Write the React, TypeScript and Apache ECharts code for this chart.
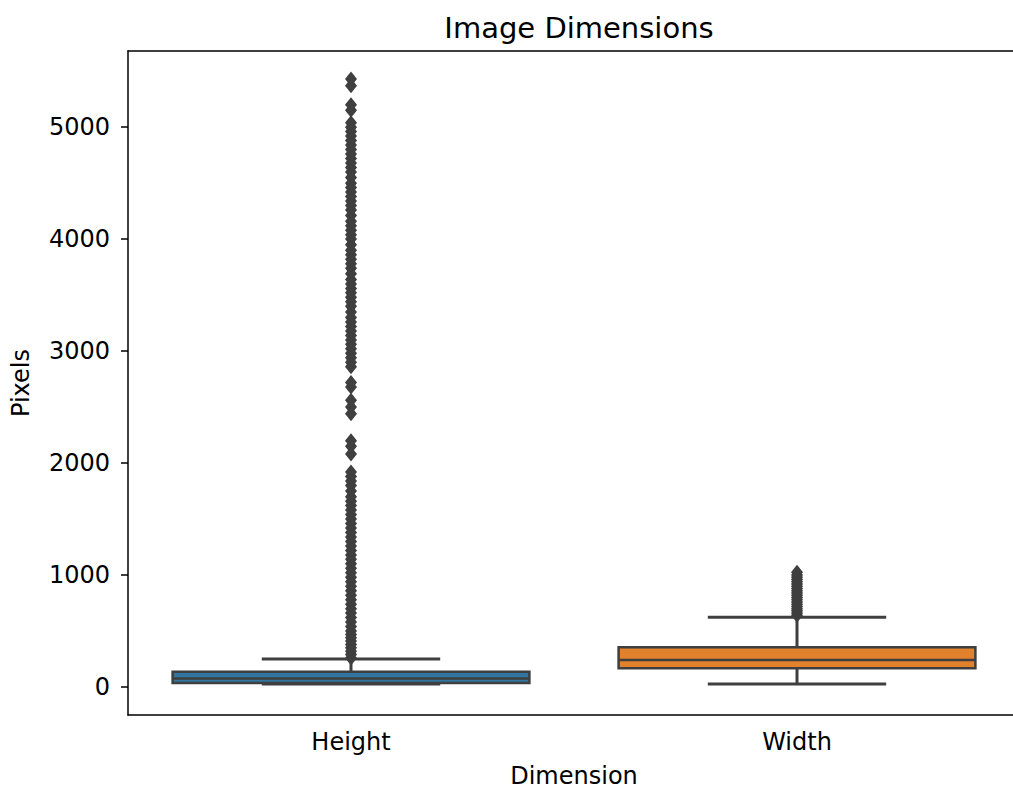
import React, { useEffect, useRef } from "react";
import * as echarts from "echarts";

const categories = ["Height", "Width"];
const lowerWhisker = [27, 27];
const q1 = [36, 167];
const median = [75, 241];
const q3 = [137, 354];
const upperWhisker = [250, 622];
const boxColors = ["#3274a1", "#e1812c"];

const heightOutliers = [
  260, 290, 320, 350, 380, 410, 440, 470, 500, 540, 580, 620, 660, 700, 740, 780,
  820, 860, 900, 940, 980, 1020, 1060, 1100, 1140, 1180, 1220, 1260, 1300, 1340,
  1380, 1420, 1460, 1500, 1540, 1580, 1620, 1660, 1700, 1750, 1800, 1840, 1880,
  1920, 2080, 2150, 2200, 2440, 2500, 2560, 2680, 2720, 2860, 2900, 2940, 2980,
  3020, 3060, 3100, 3140, 3180, 3220, 3260, 3300, 3350, 3400, 3440, 3480, 3520,
  3560, 3600, 3640, 3690, 3740, 3780, 3820, 3860, 3900, 3950, 4000, 4040, 4080,
  4120, 4160, 4210, 4260, 4300, 4340, 4380, 4420, 4460, 4500, 4550, 4600, 4640,
  4680, 4720, 4760, 4800, 4840, 4880, 4920, 4960, 5000, 5040, 5150, 5200, 5370,
  5430,
];
const widthOutliers = [
  640, 660, 680, 700, 720, 740, 760, 780, 800, 820, 840, 860, 880, 900, 920, 940,
  960, 980, 1000, 1024,
];
const yTicks = [0, 1000, 2000, 3000, 4000, 5000];

const LINE = "#3f3f3f";
const FONT = "DejaVu Sans";

export default function App() {
  const ref = useRef<HTMLDivElement>(null);
  useEffect(() => {
    document.body.style.margin = "0";
    document.body.style.overflow = "hidden";
    const chart = echarts.init(ref.current!, undefined, { renderer: "svg" });
    const boxData = categories.map((_, i) => [
      i,
      lowerWhisker[i],
      q1[i],
      median[i],
      q3[i],
      upperWhisker[i],
    ]);
    const outlierData: number[][] = [];
    heightOutliers.forEach((v) => outlierData.push([0, v]));
    widthOutliers.forEach((v) => outlierData.push([1, v]));

    chart.setOption({
      animation: false,
      backgroundColor: "#ffffff",
      textStyle: { fontFamily: FONT },
      title: {
        text: "Image Dimensions",
        left: 574,
        textAlign: "center",
        top: 8,
        textStyle: { fontFamily: FONT, fontSize: 29, fontWeight: "normal", color: "#000" },
      },
      grid: { left: 128, right: 80, top: 51, bottom: 78, show: false },
      xAxis: [
        {
          type: "category",
          data: categories,
          boundaryGap: true,
          name: "Dimension",
          nameLocation: "middle",
          nameGap: 49,
          nameTextStyle: { fontFamily: FONT, fontSize: 24, color: "#000" },
          axisLine: { onZero: false, lineStyle: { color: "#000", width: 1.5 } },
          axisTick: { alignWithLabel: true, length: 7, lineStyle: { color: "#000", width: 1.5 } },
          axisLabel: { fontFamily: FONT, fontSize: 24, color: "#000", margin: 15 },
          splitLine: { show: false },
        },
        {
          type: "category",
          data: categories,
          position: "top",
          axisLine: { onZero: false, lineStyle: { color: "#000", width: 1.5 } },
          axisTick: { show: false },
          axisLabel: { show: false },
          splitLine: { show: false },
        },
      ],
      yAxis: {
        type: "value",
        min: -250,
        max: 5680,
        name: "Pixels",
        nameLocation: "middle",
        nameGap: 95,
        nameRotate: 90,
        nameTextStyle: { fontFamily: FONT, fontSize: 24, color: "#000" },
        axisLine: { show: true, onZero: false, lineStyle: { color: "#000", width: 1.5 } },
        axisTick: { show: true, length: 7, customValues: yTicks, lineStyle: { color: "#000", width: 1.5 } },
        axisLabel: {
          fontFamily: FONT,
          fontSize: 24,
          color: "#000",
          margin: 18,
          customValues: yTicks,
          formatter: (v: number) => String(v),
        },
        splitLine: { show: false },
      },
      series: [
        {
          type: "custom",
          data: boxData,
          encode: { x: 0, y: [1, 2, 3, 4, 5] },
          z: 2,
          renderItem: (params: any, api: any) => {
            const i = api.value(0);
            const band = api.size([1, 0])[0];
            const bw = band * 0.8;
            const cw = bw / 2;
            const pLo = api.coord([i, api.value(1)]);
            const pQ1 = api.coord([i, api.value(2)]);
            const pMed = api.coord([i, api.value(3)]);
            const pQ3 = api.coord([i, api.value(4)]);
            const pHi = api.coord([i, api.value(5)]);
            const cx = pQ1[0];
            const ls = { stroke: LINE, lineWidth: 3 };
            return {
              type: "group",
              children: [
                { type: "line", shape: { x1: cx, y1: pQ3[1], x2: cx, y2: pHi[1] }, style: ls },
                { type: "line", shape: { x1: cx, y1: pQ1[1], x2: cx, y2: pLo[1] }, style: ls },
                { type: "line", shape: { x1: cx - cw / 2, y1: pHi[1], x2: cx + cw / 2, y2: pHi[1] }, style: ls },
                { type: "line", shape: { x1: cx - cw / 2, y1: pLo[1], x2: cx + cw / 2, y2: pLo[1] }, style: ls },
                {
                  type: "rect",
                  shape: { x: cx - bw / 2, y: pQ3[1], width: bw, height: pQ1[1] - pQ3[1] },
                  style: { fill: boxColors[params.dataIndex], stroke: LINE, lineWidth: 2.5 },
                },
                { type: "line", shape: { x1: cx - bw / 2, y1: pMed[1], x2: cx + bw / 2, y2: pMed[1] }, style: { stroke: LINE, lineWidth: 2.5 } },
              ],
            };
          },
        },
        {
          type: "scatter",
          data: outlierData,
          symbol: "diamond",
          symbolSize: [12, 15],
          z: 3,
          itemStyle: { color: LINE, opacity: 1 },
        },
      ],
    });
    return () => chart.dispose();
  }, []);
  return (
    <div style={{ position: "fixed", left: 0, top: 0, width: 1013, height: 793, overflow: "hidden", background: "#fff" }}>
      <div ref={ref} style={{ width: 1100, height: 793 }} />
    </div>
  );
}
